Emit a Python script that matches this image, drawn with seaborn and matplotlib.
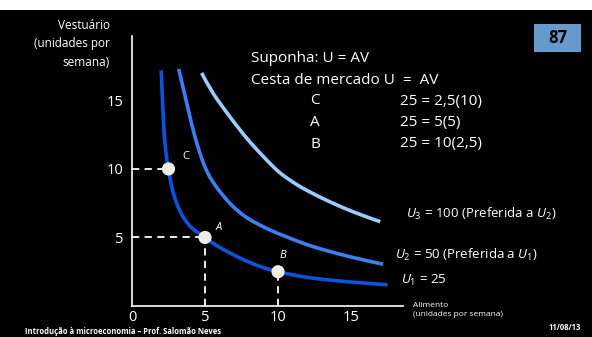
import matplotlib
matplotlib.use("Agg")
import matplotlib.pyplot as plt
import seaborn as sns
from matplotlib.patches import Rectangle, PathPatch
from matplotlib.path import Path

# indifference curves (alimento, vestuario)
u1_food = [2.0, 2.15, 2.3, 2.5, 2.72, 3.06, 3.5, 4.1, 5.0, 6.0, 7.4, 8.6, 10.0, 12.2, 14.9, 17.5]
u1_cloth = [17.2, 13.6, 11.4, 10.0, 8.7, 7.5, 6.5, 5.7, 5.0, 4.28, 3.5, 2.95, 2.5, 2.06, 1.76, 1.55]

u2_food = [3.2, 3.55, 3.86, 4.3, 4.9, 5.57, 6.7, 7.86, 9.45, 11.3, 12.65, 14.9, 17.2]
u2_cloth = [17.3, 15.7, 14.3, 12.4, 10.4, 9.0, 7.5, 6.45, 5.55, 4.75, 4.25, 3.6, 3.05]

u3_food = [4.77, 5.57, 6.71, 7.86, 9.0, 10.1, 11.3, 12.4, 13.56, 15.2, 17.0]
u3_cloth = [17.0, 15.5, 13.8, 12.24, 10.9, 9.75, 8.85, 8.2, 7.6, 6.85, 6.15]

# market baskets
basket_names = ["C", "A", "B"]
basket_food = [2.5, 5, 10]
basket_cloth = [10, 5, 2.5]

x_ticks = [0, 5, 10, 15]
y_ticks = [5, 10, 15]

sns.set_theme(style="ticks")
plt.rcParams["font.family"] = ["Open Sans", "DejaVu Sans"]
plt.rcParams["mathtext.fontset"] = "custom"
plt.rcParams["mathtext.it"] = "Open Sans:italic"
plt.rcParams["mathtext.rm"] = "Open Sans"

W, H = 592, 337
fig = plt.figure(figsize=(W / 100, H / 100), dpi=100, facecolor="black")
fig.patches.append(Rectangle((0, 1 - 10 / H), 1, 10 / H, transform=fig.transFigure,
                             facecolor="white", edgecolor="none", zorder=-1))


def px(x, y):
    return x / W, 1 - y / H


def smooth_path(xs, ys):
    # catmull-rom drawn as cubic bezier segments through the read points
    pts = list(zip(xs, ys))
    verts = [pts[0]]
    codes = [Path.MOVETO]
    for i in range(len(pts) - 1):
        p0 = pts[max(i - 1, 0)]
        p1 = pts[i]
        p2 = pts[i + 1]
        p3 = pts[min(i + 2, len(pts) - 1)]
        c1 = (p1[0] + (p2[0] - p0[0]) / 6, p1[1] + (p2[1] - p0[1]) / 6)
        c2 = (p2[0] - (p3[0] - p1[0]) / 6, p2[1] - (p3[1] - p1[1]) / 6)
        verts += [c1, c2, p2]
        codes += [Path.CURVE4] * 3
    return Path(verts, codes)


ax = fig.add_axes([132 / W, 31 / H, 271 / W, 270 / H])
ax.set_facecolor("black")
ax.set_xlim(0, 18.56)
ax.set_ylim(0, 19.7)

curves = [(u3_food, u3_cloth, "#9ccbff"), (u2_food, u2_cloth, "#3c7ff2"), (u1_food, u1_cloth, "#0a55dc")]
for fx, fy, col in curves:
    ax.add_patch(PathPatch(smooth_path(fx, fy), facecolor="none", edgecolor=col,
                           linewidth=2.6, capstyle="butt", zorder=3))

ax.hlines(basket_cloth[:2], 0, basket_food[:2], colors="white", linestyles=(0, (4, 3)), linewidth=1.3)
ax.vlines(basket_food[1:], 0, basket_cloth[1:], colors="white", linestyles=(0, (4, 3)), linewidth=1.3)
sns.scatterplot(x=basket_food, y=basket_cloth, ax=ax, s=90, color="#efeee6", edgecolor="none", zorder=5)

offsets = [(0.95, 0.9), (0.75, 0.7), (0.1, 1.2)]
for name, fx, fy, (dx, dy) in zip(basket_names, basket_food, basket_cloth, offsets):
    ax.text(fx + dx, fy + dy, name, color="white", fontsize=8,
            style="normal" if name == "C" else "italic", ha="left", va="center")

for side in ["top", "right"]:
    ax.spines[side].set_visible(False)
for side in ["left", "bottom"]:
    ax.spines[side].set_color("white")
    ax.spines[side].set_linewidth(1.2)
ax.set_xticks(x_ticks)
ax.set_yticks(y_ticks)
ax.tick_params(colors="white", length=0, labelsize=10.5, pad=3)
ax.tick_params(axis="y", pad=6)
ax.set_xlabel("")
ax.set_ylabel("")

fig.text(*px(110, 44), "Vestuário\n(unidades por\nsemana)", color="white", fontsize=8.5,
         ha="right", va="center", linespacing=1.55)
fig.text(*px(413, 310), "Alimento\n(unidades por semana)", color="white", fontsize=6,
         ha="left", va="center", linespacing=1.45)

fig.text(*px(251, 59), "Suponha: U = AV", color="white", fontsize=11, va="center")
fig.text(*px(251, 80), "Cesta de mercado U  =  AV", color="white", fontsize=11, va="center")
eqs = ["25 = 2,5(10)", "25 = 5(5)", "25 = 10(2,5)"]
for i, (name, eq) in enumerate(zip(basket_names, eqs)):
    y = 101 + i * 21.5
    fig.text(*px(310, y), name, color="white", fontsize=11, va="center")
    fig.text(*px(400, y), eq, color="white", fontsize=11, va="center")

fig.text(*px(406, 214), "$U_3$ = 100 (Preferida a $U_2$)", color="white", fontsize=9.5, va="center")
fig.text(*px(395, 255), "$U_2$ = 50 (Preferida a $U_1$)", color="white", fontsize=9.5, va="center")
fig.text(*px(401, 280), "$U_1$ = 25", color="white", fontsize=9.5, va="center")

fig.patches.append(Rectangle(px(534, 52), 47 / W, 28 / H, transform=fig.transFigure,
                             facecolor="#6699cc", edgecolor="none"))
fig.text(*px(557.5, 38), "87", color="black", fontsize=12, fontweight="bold", ha="center", va="center")

fig.text(*px(25, 331), "Introdução à microeconomia – Prof. Salomão Neves", color="white",
         fontsize=5.5, fontweight="bold", va="center")
fig.text(*px(581, 327), "11/08/13", color="white", fontsize=5.5, fontweight="bold", ha="right", va="center")

fig.savefig("out.png", dpi=100, facecolor="black")
